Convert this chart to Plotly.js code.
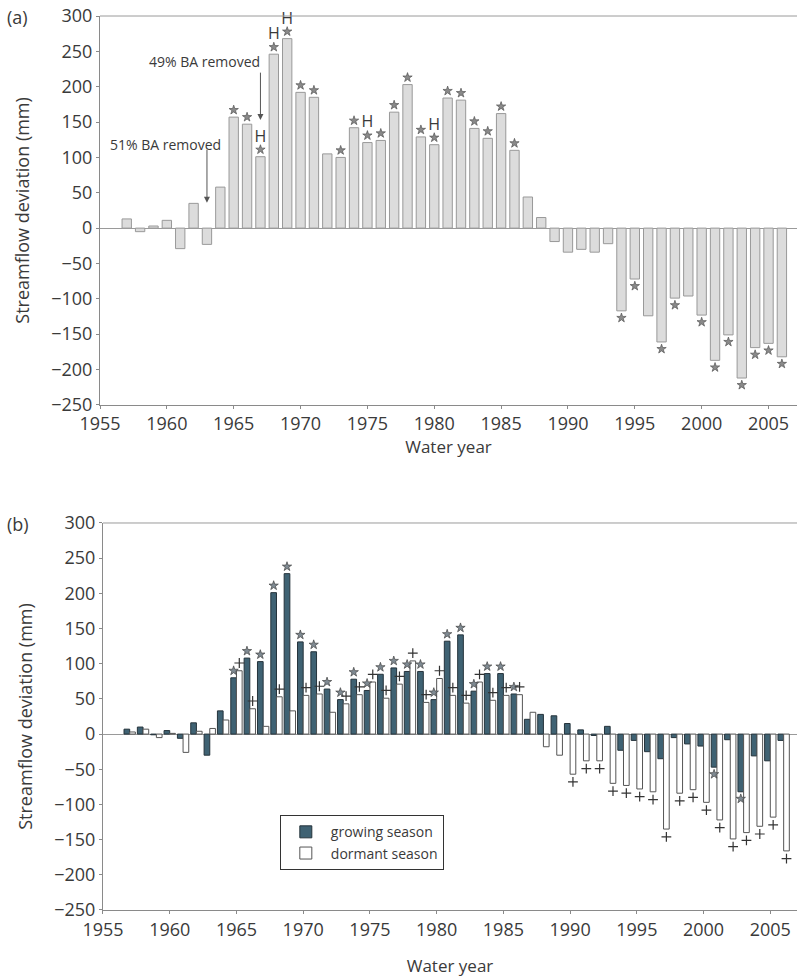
<!DOCTYPE html>
<html>
<head>
<meta charset="utf-8">
<script src="https://cdn.plot.ly/plotly-3.0.1.min.js"></script>
<style>html,body{margin:0;padding:0;background:#fff;}#chart{width:798px;height:977px;}</style>
</head>
<body>
<div id="chart"></div>
<script>
// ---- Data ----
const years = [1957,1958,1959,1960,1961,1962,1963,1964,1965,1966,1967,1968,1969,1970,1971,1972,1973,1974,1975,1976,1977,1978,1979,1980,1981,1982,1983,1984,1985,1986,1987,1988,1989,1990,1991,1992,1993,1994,1995,1996,1997,1998,1999,2000,2001,2002,2003,2004,2005,2006];

// Panel (a): annual streamflow deviation (mm)
const annualDev = [13,-5,3,11,-29,35,-23,58,157,147,101,246,268,192,185,105,100,142,121,124,164,203,129,118,184,181,141,127,162,110,44,15,-19,-34,-30,-34,-22,-117,-72,-124,-161,-99,-96,-123,-187,-151,-212,-169,-163,-182];
const annualSigYears = [1965,1966,1967,1968,1969,1970,1971,1973,1974,1975,1976,1977,1978,1979,1980,1981,1982,1983,1984,1985,1986,1994,1995,1997,1998,2000,2001,2002,2003,2004,2005,2006];
const annualHYears = [1967,1968,1969,1975,1980];

// Panel (b): seasonal streamflow deviation (mm)
const growingDev = [7,10,-1,5,-6,16,-30,33,80,108,103,201,228,131,117,64,49,78,62,85,94,89,89,49,132,141,61,86,86,57,21,28,26,15,6,-2,11,-23,-9,-25,-35,-5,-14,-17,-47,-8,-82,-31,-38,-9];
const dormantDev = [3,7,-5,1,-26,4,8,20,90,36,11,53,33,55,57,31,43,56,74,51,71,104,45,79,55,44,74,48,55,56,31,-18,-30,-57,-38,-38,-70,-73,-78,-82,-135,-84,-79,-97,-122,-149,-140,-131,-118,-166];
const growingSigYears = [1965,1966,1967,1968,1969,1970,1971,1972,1973,1974,1975,1976,1977,1978,1979,1980,1981,1982,1983,1984,1985,1986,2001,2003];
const dormantSigYears = [1965,1966,1968,1970,1971,1973,1974,1975,1976,1977,1978,1979,1980,1981,1982,1983,1984,1985,1986,1990,1991,1992,1993,1994,1995,1996,1997,1998,1999,2000,2001,2002,2003,2004,2005,2006];

const seriesNames = ['growing season','dormant season'];
const xTicks = [1955,1960,1965,1970,1975,1980,1985,1990,1995,2000,2005];
const yTicks = [-250,-200,-150,-100,-50,0,50,100,150,200,250,300];
const removals = [{year:1963, label:'51% BA removed'},{year:1967, label:'49% BA removed'}];

// ---- Helpers ----
const valOf = (arr, y) => arr[years.indexOf(y)];
const txtColor = '#3a3a3a';
const FONT = '"Open Sans", "Noto Sans", sans-serif';
const bargap = 0.15;
const halfShift = (1 - bargap) / 4;

function marks(sigYears, arr, dx, off, xa, ya, symbol, size, color, lw) {
  return {
    type:'scatter', mode:'markers', xaxis:xa, yaxis:ya, showlegend:false, hoverinfo:'skip', cliponaxis:false,
    x: sigYears.map(y => y + dx),
    y: sigYears.map(y => { const v = valOf(arr, y); return v >= 0 ? v + off : v - off; }),
    marker:{symbol:symbol, size:size, color:color, line:{color:lw.c, width:lw.w}}
  };
}

const traces = [
  {type:'bar', x:years, y:annualDev, xaxis:'x', yaxis:'y', width:0.7, showlegend:false,
   marker:{color:'#dcdcdc', line:{color:'#999999', width:1}}},
  marks(annualSigYears, annualDev, 0, 10, 'x', 'y', 'star', 7, '#8a8a8a', {c:'#555', w:0.7}),
  {type:'scatter', mode:'text', xaxis:'x', yaxis:'y', showlegend:false, hoverinfo:'skip', cliponaxis:false,
   x: annualHYears, y: annualHYears.map(y => valOf(annualDev, y) + 27),
   text: annualHYears.map(() => 'H'), textfont:{family:FONT, size:16, color:txtColor}},

  {type:'bar', name:seriesNames[0], x:years, y:growingDev, xaxis:'x2', yaxis:'y2',
   marker:{color:'#3f6273', line:{color:'#25333b', width:1}}},
  {type:'bar', name:seriesNames[1], x:years, y:dormantDev, xaxis:'x2', yaxis:'y2',
   marker:{color:'#ffffff', line:{color:'#555', width:1}}},
  marks(growingSigYears, growingDev, -halfShift, 10, 'x2', 'y2', 'star', 7, '#7f8a92', {c:'#444', w:0.7}),
  marks(dormantSigYears, dormantDev, halfShift, 11, 'x2', 'y2', 'cross-thin-open', 7, '#333', {c:'#333', w:1.2})
];

const axisCommon = {
  showline:true, linecolor:'#8a8a8a', linewidth:1, ticks:'outside', ticklen:3, tickcolor:'#8a8a8a',
  tickfont:{family:FONT, size:18, color:txtColor}, showgrid:false, zeroline:false, fixedrange:true
};
const yCommon = Object.assign({}, axisCommon, {
  range:[-250,300], tickvals:yTicks, zeroline:true, zerolinecolor:'#9a9a9a', zerolinewidth:1,
  title:{text:'Streamflow deviation (mm)', font:{family:FONT, size:18, color:txtColor}, standoff:16}
});

const annotations = [
  {xref:'paper', yref:'paper', x:-0.137, y:0.999, xanchor:'left', yanchor:'middle', showarrow:false,
   text:'(a)', font:{family:FONT, size:18, color:txtColor}},
  {xref:'paper', yref:'paper', x:-0.137, y:0.432, xanchor:'left', yanchor:'middle', showarrow:false,
   text:'(b)', font:{family:FONT, size:18, color:txtColor}}
];
const textY = [118, 236];
const textDx = [1.2, 0.1];
const arrowY = [[113, 36],[222, 153]];
removals.forEach((r, i) => {
  annotations.push({xref:'x', yref:'y', x:r.year + textDx[i], y:textY[i], xanchor:'right', yanchor:'middle',
    showarrow:false, text:r.label, font:{family:FONT, size:14, color:txtColor}});
  annotations.push({xref:'x', yref:'y', axref:'x', ayref:'y', x:r.year, y:arrowY[i][1], ax:r.year, ay:arrowY[i][0],
    text:'', showarrow:true, arrowhead:2, arrowsize:1.2, arrowwidth:1, arrowcolor:'#555'});
});

const layout = {
  width:798, height:977,
  margin:{l:100, r:1, t:16, b:67},
  paper_bgcolor:'#ffffff', plot_bgcolor:'#ffffff',
  font:{family:FONT, color:txtColor},
  barmode:'group', bargap:bargap, bargroupgap:0,
  xaxis:Object.assign({}, axisCommon, {domain:[0,1], anchor:'y', range:[1955,2007.13], tickvals:xTicks,
    title:{text:'Water year', font:{family:FONT, size:17, color:txtColor}, standoff:4}}),
  yaxis:Object.assign({}, yCommon, {domain:[0.565,1], anchor:'x'}),
  xaxis2:Object.assign({}, axisCommon, {domain:[0.0043,1], anchor:'y2', range:[1955,2007.0], tickvals:xTicks,
    title:{text:'Water year', font:{family:FONT, size:17, color:txtColor}, standoff:22}}),
  yaxis2:Object.assign({}, yCommon, {domain:[0,0.4329], anchor:'x2'}),
  showlegend:true,
  legend:{x:0.258, y:0.106, xanchor:'left', yanchor:'top', bgcolor:'#ffffff', bordercolor:'#333', borderwidth:1,
    font:{family:FONT, size:14, color:txtColor}, tracegroupgap:2, itemwidth:40},
  shapes:[
    {type:'line', xref:'x domain', yref:'y domain', x0:0, x1:1, y0:1, y1:1, line:{color:'#9a9a9a', width:1}},
    {type:'line', xref:'x2 domain', yref:'y2 domain', x0:0, x1:1, y0:1, y1:1, line:{color:'#9a9a9a', width:1}}
  ],
  annotations:annotations
};

Plotly.newPlot('chart', traces, layout, {displayModeBar:false, staticPlot:true});
</script>
</body>
</html>
